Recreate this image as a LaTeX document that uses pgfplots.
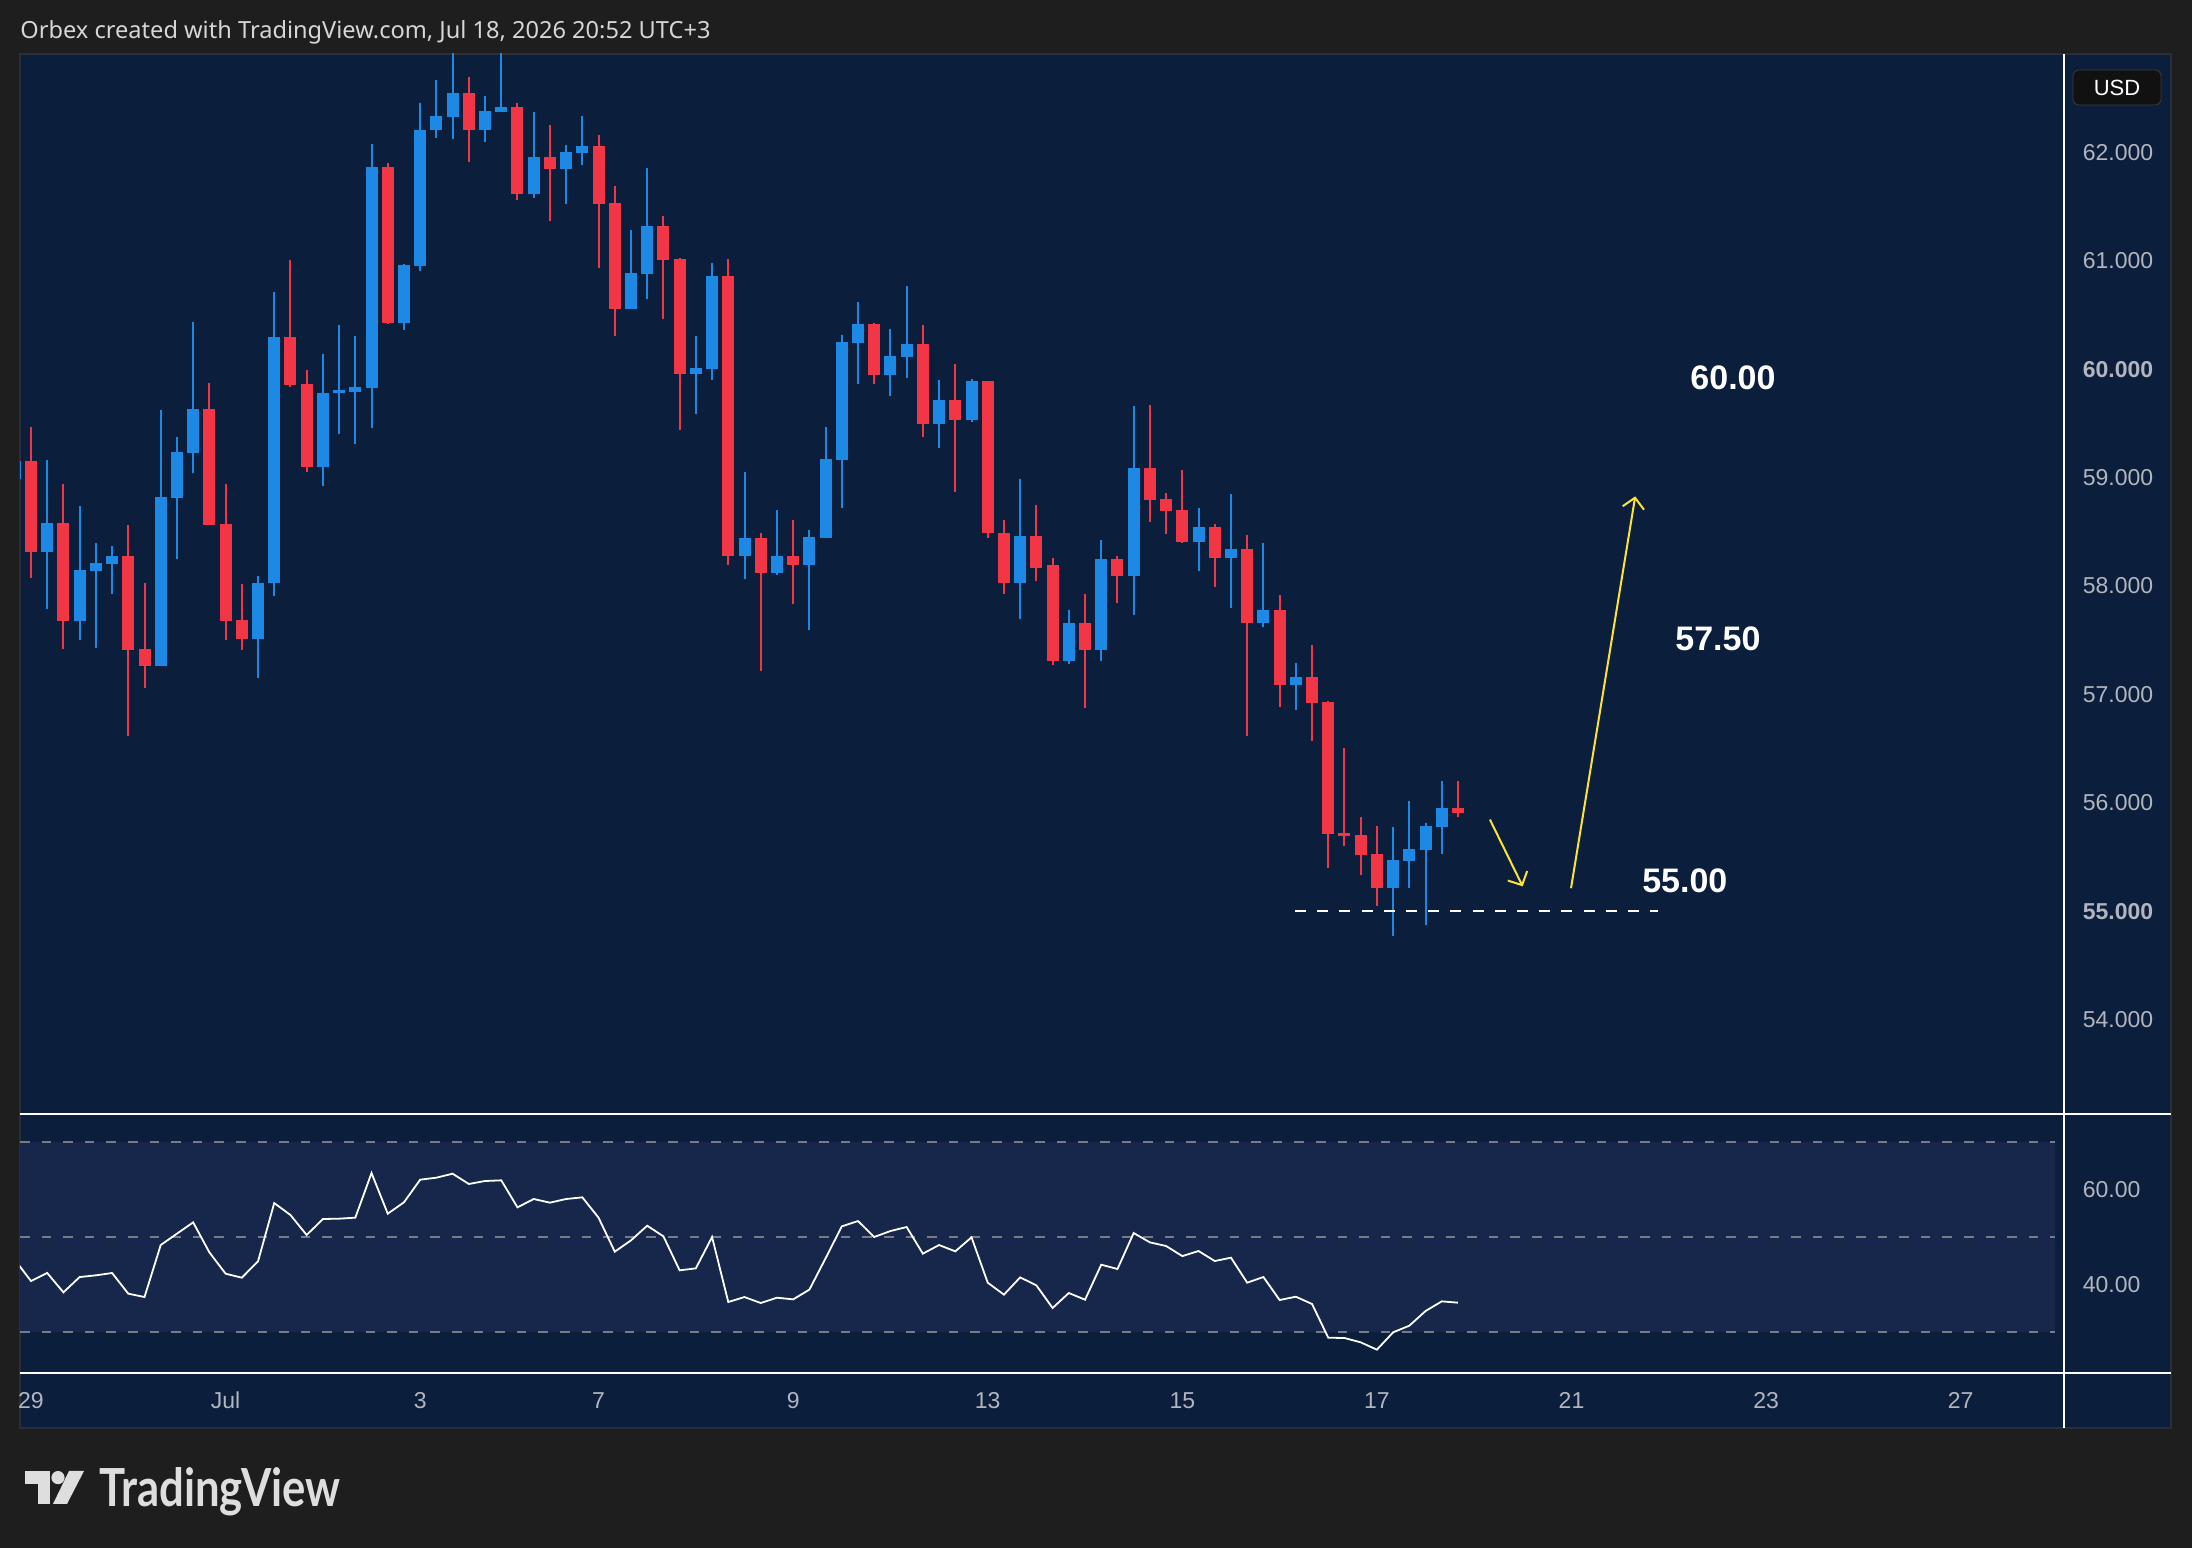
\documentclass[border=0pt]{standalone}
\usepackage{fontspec}
\setmainfont{Liberation Sans}
\newfontfamily\notosans{Noto Sans}
\newfontfamily\latofont{Lato}
\usepackage{graphicx}
\usepackage{pgfplots}
\pgfplotsset{compat=1.18}
\usepackage{pgfplotstable}
\usetikzlibrary{arrows.meta}

\definecolor{tvbg}{HTML}{1E1E1E}
\definecolor{tvpanel}{HTML}{0B1E3C}
\definecolor{tvband}{HTML}{17274B}
\definecolor{tvred}{HTML}{F23645}
\definecolor{tvblue}{HTML}{1E88E5}
\definecolor{tvgray}{HTML}{B2B5BE}
\definecolor{tvtext}{HTML}{D6D6D6}
\definecolor{tvdash}{HTML}{787B86}
\definecolor{tvyellow}{HTML}{FBE33B}
\definecolor{tvlogo}{HTML}{DEDEDE}
\definecolor{tvborder}{HTML}{2A2E39}
\definecolor{tvbox}{HTML}{111111}
\definecolor{tvboxline}{HTML}{3C3C3C}

\newcommand\tickfont{\fontsize{11.5}{13}\selectfont}

% 2-hour candles: bar index, open, high, low, close
\pgfplotstableread{
i o h l c
0 58.99 59.30 58.85 59.15
1 59.15 59.47 58.07 58.31
2 58.31 59.16 57.79 58.58
3 58.58 58.94 57.42 57.68
4 57.68 58.74 57.50 58.15
5 58.14 58.40 57.43 58.21
6 58.20 58.37 57.93 58.28
7 58.28 58.56 56.62 57.41
8 57.42 58.03 57.06 57.26
9 57.26 59.62 57.26 58.82
10 58.81 59.37 58.25 59.24
11 59.23 60.44 59.04 59.63
12 59.63 59.87 58.56 58.56
13 58.57 58.94 57.50 57.68
14 57.69 58.02 57.41 57.51
15 57.51 58.09 57.15 58.03
16 58.03 60.71 57.91 60.30
17 60.30 61.01 59.84 59.85
18 59.86 59.99 59.05 59.10
19 59.10 60.14 58.92 59.78
20 59.78 60.41 59.40 59.81
21 59.79 60.31 59.31 59.84
22 59.83 62.08 59.46 61.87
23 61.87 61.90 60.42 60.43
24 60.43 60.97 60.36 60.96
25 60.95 62.46 60.91 62.21
26 62.21 62.67 62.13 62.34
27 62.33 63.00 62.12 62.55
28 62.55 62.70 61.91 62.21
29 62.21 62.52 62.10 62.38
30 62.37 63.00 62.37 62.42
31 62.42 62.46 61.56 61.62
32 61.62 62.37 61.58 61.96
33 61.96 62.25 61.37 61.85
34 61.85 62.07 61.52 62.00
35 61.99 62.34 61.88 62.06
36 62.06 62.16 60.93 61.52
37 61.53 61.69 60.31 60.56
38 60.56 61.28 60.56 60.89
39 60.88 61.86 60.65 61.32
40 61.32 61.41 60.46 61.01
41 61.02 61.03 59.44 59.96
42 59.96 60.31 59.59 60.01
43 60.00 60.98 59.90 60.86
44 60.86 61.02 58.19 58.28
45 58.28 59.05 58.06 58.44
46 58.44 58.49 57.22 58.12
47 58.12 58.70 58.10 58.28
48 58.28 58.61 57.83 58.19
49 58.19 58.52 57.59 58.45
50 58.44 59.47 58.44 59.17
51 59.16 60.32 58.72 60.25
52 60.24 60.62 59.86 60.42
53 60.42 60.43 59.86 59.95
54 59.95 60.37 59.75 60.12
55 60.11 60.77 59.92 60.23
56 60.23 60.41 59.37 59.49
57 59.49 59.90 59.27 59.72
58 59.72 60.05 58.87 59.53
59 59.53 59.91 59.51 59.89
60 59.89 59.89 58.44 58.49
61 58.49 58.61 57.93 58.03
62 58.03 58.99 57.70 58.46
63 58.46 58.75 58.05 58.17
64 58.19 58.26 57.27 57.31
65 57.31 57.78 57.28 57.66
66 57.66 57.93 56.87 57.41
67 57.41 58.42 57.31 58.25
68 58.25 58.28 57.84 58.09
69 58.09 59.66 57.73 59.09
70 59.09 59.67 58.59 58.79
71 58.80 58.86 58.48 58.69
72 58.70 59.07 58.40 58.41
73 58.41 58.72 58.14 58.54
74 58.54 58.57 57.99 58.26
75 58.26 58.85 57.80 58.34
76 58.34 58.47 56.62 57.66
77 57.66 58.40 57.62 57.78
78 57.78 57.92 56.88 57.09
79 57.09 57.29 56.86 57.16
80 57.16 57.46 56.57 56.92
81 56.93 56.94 55.40 55.71
82 55.72 56.51 55.60 55.69
83 55.70 55.87 55.33 55.52
84 55.53 55.79 55.05 55.21
85 55.21 55.78 54.77 55.47
86 55.46 56.02 55.21 55.57
87 55.56 55.81 54.87 55.79
88 55.78 56.20 55.53 55.95
89 55.95 56.20 55.87 55.91
}\candles

% RSI(14) per bar
\pgfplotstableread{
i rsi
0 45.20
1 40.73
2 42.42
3 38.35
4 41.57
5 41.93
6 42.42
7 38.07
8 37.36
9 48.31
10 50.70
11 53.08
12 46.77
13 42.28
14 41.43
15 44.87
16 57.15
17 54.63
18 50.42
19 53.79
20 53.86
21 54.07
22 63.47
23 54.91
24 57.30
25 62.07
26 62.49
27 63.33
28 61.16
29 61.79
30 61.93
31 56.24
32 58.00
33 57.23
34 58.00
35 58.35
36 54.07
37 46.91
38 49.29
39 52.38
40 50.14
41 42.98
42 43.40
43 50.00
44 36.31
45 37.36
46 36.10
47 37.22
48 36.87
49 38.91
50 45.51
51 52.24
52 53.36
53 50.00
54 51.26
55 52.10
56 46.49
57 48.31
58 46.98
59 49.93
60 40.38
61 37.86
62 41.50
63 39.82
64 35.05
65 38.21
66 36.80
67 44.17
68 43.26
69 50.84
70 48.87
71 48.10
72 45.98
73 47.05
74 44.94
75 45.65
76 40.38
77 41.58
78 36.73
79 37.43
80 35.89
81 28.80
82 28.73
83 27.82
84 26.28
85 29.93
86 31.33
87 34.42
88 36.45
89 36.17
}\rsidata

\pgfplotsset{
  tvaxis/.style={
    scale only axis,
    axis line style={draw=none},
    major tick length=0pt,
    tick style={draw=none},
    xmin=0.3217, xmax=126.34,
    yticklabel pos=right,
    yticklabel style={font=\tickfont, text=tvgray, anchor=west, inner sep=0pt, xshift=9.5pt},
    xticklabel style={font=\tickfont, text=tvgray, anchor=center, inner sep=0pt, yshift=-14pt},
  }
}

\begin{document}
\begin{tikzpicture}
\pgfplotstablegetrowsof{\candles}
\pgfmathtruncatemacro\nrows{\pgfplotsretval-1}

\fill[tvbg] (0pt,0pt) rectangle (1096pt,774pt);
\useasboundingbox (0pt,0pt) rectangle (1096pt,774pt);
\fill[tvpanel] (10pt,60pt) rectangle (1085.5pt,747pt);
\draw[tvborder, line width=0.75pt] (10pt,60pt) rectangle (1085.5pt,747pt);

\node[anchor=base west, inner sep=0pt, text=tvtext, font=\notosans\fontsize{11.8}{14}\selectfont]
  at (10pt,754.5pt) {Orbex created with TradingView.com, Jul 18, 2026 20:52 UTC+3};

% price pane
\begin{axis}[tvaxis,
  at={(10pt,217pt)}, anchor=south west,
  width=1021.75pt, height=530pt,
  ymin=53.129, ymax=62.908,
  xtick=\empty,
  ytick={54,55,56,57,58,59,60,61,62},
  yticklabels={54.000,\textbf{55.000},56.000,57.000,58.000,59.000,\textbf{60.000},61.000,62.000},
]
\pgfplotsinvokeforeach{0,...,\nrows}{%
  \pgfplotstablegetelem{#1}{i}\of\candles \let\vI\pgfplotsretval
  \pgfplotstablegetelem{#1}{o}\of\candles \let\vO\pgfplotsretval
  \pgfplotstablegetelem{#1}{h}\of\candles \let\vH\pgfplotsretval
  \pgfplotstablegetelem{#1}{l}\of\candles \let\vL\pgfplotsretval
  \pgfplotstablegetelem{#1}{c}\of\candles \let\vC\pgfplotsretval
  \pgfmathsetmacro\xa{\vI-0.37}%
  \pgfmathsetmacro\xb{\vI+0.37}%
  \ifdim\vC pt<\vO pt \def\col{tvred}\else\def\col{tvblue}\fi
  \edef\candle{%
    \noexpand\addplot[draw=\col, line width=1pt, forget plot] coordinates {(\vI,\vL) (\vI,\vH)};
    \noexpand\addplot[fill=\col, draw=none, forget plot] coordinates {(\xa,\vO) (\xb,\vO) (\xb,\vC) (\xa,\vC)};
  }\candle
}
% support level and projected path
\addplot[white, line width=1pt, dash pattern=on 5.5pt off 5.6pt] coordinates {(78.95,55.0) (101.33,55.0)};
\draw[tvyellow, line width=1pt, -{Straight Barb[length=5.2pt,width=10.8pt]}]
  (axis cs:90.97,55.845) -- (axis cs:92.99,55.229);
\draw[tvyellow, line width=1pt, -{Straight Barb[length=5.2pt,width=10.8pt]}]
  (axis cs:95.97,55.212) -- (axis cs:99.93,58.827);
\node[text=white, font=\bfseries\fontsize{17}{19}\selectfont] at (axis cs:105.96,59.92) {60.00};
\node[text=white, font=\bfseries\fontsize{17}{19}\selectfont] at (axis cs:105.03,57.51) {57.50};
\node[text=white, font=\bfseries\fontsize{17}{19}\selectfont] at (axis cs:102.99,55.28) {55.00};
\end{axis}

% RSI pane
\begin{axis}[tvaxis,
  at={(10pt,87.65pt)}, anchor=south west,
  width=1021.75pt, height=128.5pt,
  ymin=21.43, ymax=75.54,
  ytick={40,60}, yticklabels={40.00,60.00},
  xtick={1,13,25,36,48,60,72,84,96,108,120},
  xticklabels={29,Jul,3,7,9,13,15,17,21,23,27},
]
\fill[tvband] (axis cs:0.3217,30) rectangle (axis cs:125.8,70);
\draw[tvdash, line width=1pt, dash pattern=on 4.8pt off 6pt] (axis cs:0.3217,70) -- (axis cs:125.8,70);
\draw[tvdash, line width=1pt, dash pattern=on 4.8pt off 6pt] (axis cs:0.3217,50) -- (axis cs:125.8,50);
\draw[tvdash, line width=1pt, dash pattern=on 4.8pt off 6pt] (axis cs:0.3217,30) -- (axis cs:125.8,30);
\addplot[white, line width=0.9pt] table[x=i, y=rsi] {\rsidata};
\end{axis}

% pane separators
\draw[white, line width=1pt] (10pt,217pt) -- (1085.5pt,217pt);
\draw[white, line width=1pt] (10pt,87.5pt) -- (1085.5pt,87.5pt);
\draw[white, line width=1pt] (1031.75pt,60pt) -- (1031.75pt,747pt);

% currency tag
\node[draw=tvboxline, fill=tvbox, rounded corners=3pt, minimum width=44pt, minimum height=17.5pt,
  inner sep=0pt, text=white, font=\fontsize{11}{13}\selectfont] at (1058.5pt,730.25pt) {USD};

% logo
\fill[tvlogo] (12.5pt,32pt) rectangle (25pt,38.5pt);
\fill[tvlogo] (19pt,22pt) rectangle (25pt,38.5pt);
\fill[tvlogo] (29pt,35.2pt) circle (3.3pt);
\fill[tvlogo] (34.5pt,38.5pt) -- (42pt,38.5pt) -- (33.5pt,22pt) -- (26.5pt,22pt) -- cycle;
\node[anchor=base west, inner sep=0pt, text=tvlogo] at (49.5pt,20.5pt)
  {\resizebox{120.5pt}{19.5pt}{\latofont\bfseries TradingView}};
\end{tikzpicture}
\end{document}
